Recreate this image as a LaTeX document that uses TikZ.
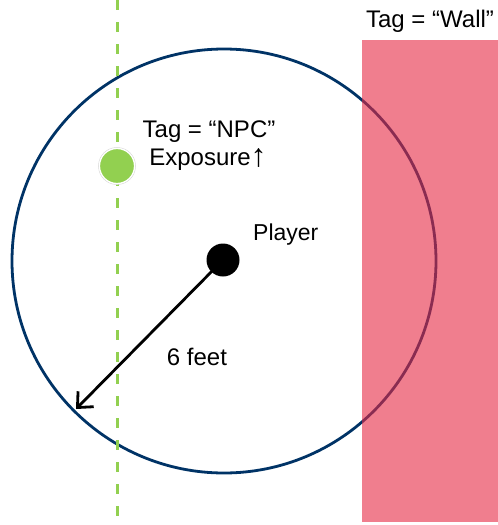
\documentclass[tikz,border=0pt]{standalone}
\usepackage{fontspec}
\setmainfont{Liberation Sans}
\usetikzlibrary{arrows.meta}
\definecolor{navy}{RGB}{0,51,102}
\definecolor{wallpink}{RGB}{230,40,67}
\definecolor{npcgreen}{RGB}{146,208,80}
\begin{document}
\begin{tikzpicture}[x=1pt,y=-1pt,
  lbl/.style={font=\fontsize{24}{28}\selectfont, text=black, inner sep=0pt, anchor=base},
  rangecircle/.style={draw=navy, line width=2.8pt},
  wallbox/.style={fill=wallpink, fill opacity=0.6, draw=none},
  sightline/.style={draw=npcgreen, line width=3pt, dash pattern=on 10pt off 12pt},
  npcdot/.style={circle, fill=npcgreen, draw=white, line width=1.2pt, minimum size=35pt, inner sep=0pt},
  playerdot/.style={circle, fill=black, minimum size=33pt, inner sep=0pt},
  radius arrow/.style={draw=black, line width=2.8pt, -{Straight Barb[length=12pt,width=22pt,line width=2.8pt]}}]
\useasboundingbox (0,0) rectangle (498,525);
% range circle
\node[rangecircle, circle, minimum size=424pt, inner sep=0pt] (range) at (224,261) {};
% wall
\node[wallbox, rectangle, minimum width=136.5pt, minimum height=482pt, inner sep=0pt, anchor=north west] (wall) at (361.5,40) {};
\node[lbl] (walltag) at (430,27) {Tag = “Wall”};
% sight line
\coordinate (ltop) at (117,0);
\coordinate (lbot) at (117,525);
\draw[sightline] (ltop) -- (lbot);
% NPC
\node[circle, draw=black!15, line width=0.6pt, minimum size=37pt, inner sep=0pt] (npcring) at (117,166) {};
\node[npcdot] (npc) at (117,166) {};
\node[lbl] (npctag) at (209,137) {Tag = “NPC”};
\node[lbl] (npcexp) at (208,165) {Exposure{\fontsize{32}{32}\selectfont\raisebox{-1pt}{↑}}};
% player
\node[playerdot] (player) at (223,260) {};
\node[lbl, anchor=base west, font=\fontsize{23}{27}\selectfont] (playerlbl) at (253,240) {Player};
% radius
\coordinate (edge) at (76,409);
\draw[radius arrow] (player.center) -- (edge);
\node[lbl] (dist) at (197,365) {6 feet};
\end{tikzpicture}
\end{document}
